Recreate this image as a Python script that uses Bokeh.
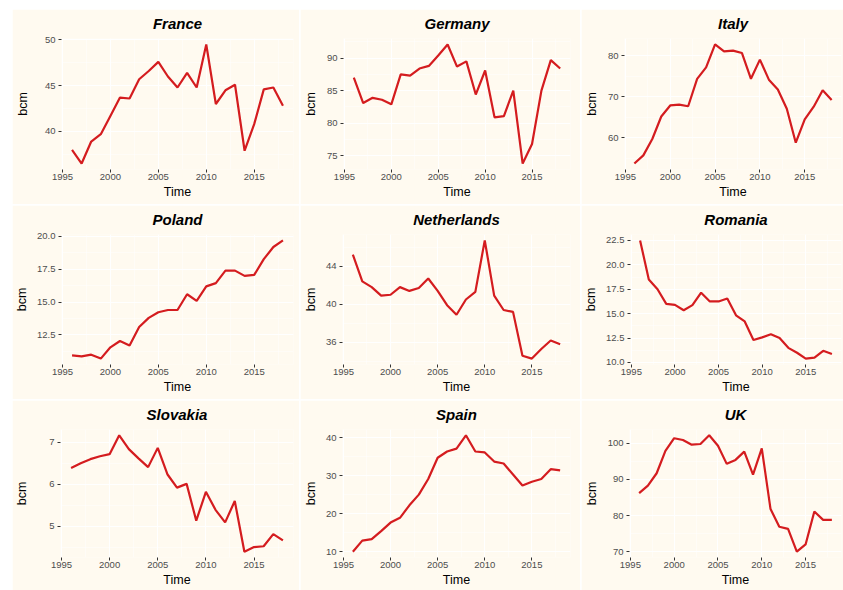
from bokeh.plotting import figure
from bokeh.models import Range1d, FixedTicker, NumeralTickFormatter, Row, Column
from bokeh.embed import file_html
from bokeh.resources import INLINE

# ---------------- data ----------------
years = list(range(1996, 2019))
countries = ["France", "Germany", "Italy",
             "Poland", "Netherlands", "Romania",
             "Slovakia", "Spain", "UK"]

france = [38.0, 36.5, 38.9, 39.7, 41.7, 43.7, 43.6, 45.7, 46.6, 47.6, 46.0, 44.8,
          46.4, 44.8, 49.5, 43.0, 44.5, 45.1, 37.9, 40.8, 44.6, 44.8, 42.8]
germany = [87.0, 83.1, 83.9, 83.6, 82.9, 87.5, 87.3, 88.4, 88.8, 90.4, 92.1, 88.7,
           89.5, 84.4, 88.1, 80.9, 81.1, 85.0, 73.8, 76.8, 85.0, 89.7, 88.4]
italy = [53.7, 55.7, 59.7, 65.2, 67.9, 68.1, 67.7, 74.4, 77.2, 82.8, 81.1, 81.3,
         80.7, 74.4, 79.1, 74.2, 71.8, 67.1, 58.8, 64.5, 67.6, 71.6, 69.2]
poland = [10.94, 10.87, 11.0, 10.7, 11.56, 12.04, 11.7, 13.1, 13.8, 14.23, 14.4, 14.4,
          15.6, 15.1, 16.2, 16.45, 17.4, 17.4, 17.0, 17.07, 18.27, 19.2, 19.7]
netherlands = [45.2, 42.4, 41.8, 40.9, 41.0, 41.8, 41.4, 41.7, 42.7, 41.4, 39.9, 38.9,
               40.5, 41.3, 46.7, 40.9, 39.4, 39.2, 34.6, 34.3, 35.3, 36.2, 35.8]
romania = [22.5, 18.5, 17.5, 16.0, 15.9, 15.35, 15.87, 17.15, 16.25, 16.25, 16.55, 14.83,
           14.2, 12.3, 12.57, 12.9, 12.5, 11.5, 11.0, 10.4, 10.5, 11.2, 10.87]
slovakia = [6.39, 6.5, 6.6, 6.67, 6.72, 7.17, 6.84, 6.62, 6.41, 6.87, 6.24, 5.92,
            6.01, 5.13, 5.82, 5.39, 5.09, 5.6, 4.39, 4.5, 4.52, 4.81, 4.66]
spain = [10.0, 12.9, 13.3, 15.4, 17.65, 18.9, 22.2, 25.0, 29.1, 34.7, 36.35, 37.1,
         40.6, 36.35, 36.1, 33.7, 33.2, 30.3, 27.4, 28.4, 29.1, 31.7, 31.4]
uk = [86.2, 88.3, 91.7, 97.9, 101.4, 100.9, 99.6, 99.8, 102.2, 99.3, 94.3, 95.4,
      97.7, 91.3, 98.6, 81.8, 76.9, 76.3, 70.0, 72.0, 81.1, 78.8, 78.8]

series = [france, germany, italy, poland, netherlands, romania, slovakia, spain, uk]

year_ticks = [1995, 2000, 2005, 2010, 2015]
france_ticks = [40, 45, 50]
germany_ticks = [75, 80, 85, 90]
italy_ticks = [60, 70, 80]
poland_ticks = [12.5, 15.0, 17.5, 20.0]
netherlands_ticks = [36, 40, 44]
romania_ticks = [10.0, 12.5, 15.0, 17.5, 20.0, 22.5]
slovakia_ticks = [5, 6, 7]
spain_ticks = [10, 20, 30, 40]
uk_ticks = [70, 80, 90, 100]
y_ticks = [france_ticks, germany_ticks, italy_ticks, poland_ticks, netherlands_ticks,
           romania_ticks, slovakia_ticks, spain_ticks, uk_ticks]
y_formats = ["0", "0", "0", "0.0", "0", "0.0", "0", "0", "0"]

# ---------------- style ----------------
BG = "#FFFAF0"
RED = "#D41C1F"
FONT = "Liberation Sans"
col_widths = [287, 280, 262]
row_heights = [195, 194, 190]
left_borders = [48, 39, 38]
right_borders = [6, 10, 2]
top_borders = [28, 29, 28]
bottom_borders = [35, 35, 33]
label_standoffs = [12, 6, 6, 5, 5, 5, 17, 5, 6]


def expand(vals, frac=0.05):
    lo, hi = min(vals), max(vals)
    d = (hi - lo) * frac
    return lo - d, hi + d


def minor_of(ticks):
    step = ticks[1] - ticks[0]
    out = [ticks[0] - step / 2]
    out += [t + step / 2 for t in ticks]
    return out


figs = []
for i, name in enumerate(countries):
    r, c = divmod(i, 3)
    xs, xe = expand(years)
    ys, ye = expand(series[i])
    p = figure(width=col_widths[c], height=row_heights[r],
               x_range=Range1d(xs, xe), y_range=Range1d(ys, ye),
               output_backend="svg", toolbar_location=None,
               min_border_left=left_borders[c], min_border_right=right_borders[c],
               min_border_top=top_borders[r], min_border_bottom=bottom_borders[r],
               background_fill_color=BG, border_fill_color=BG,
               outline_line_color=None, title=name)
    p.title.text_font = FONT
    p.title.text_font_size = "15px"
    p.title.text_font_style = "bold italic"
    p.title.align = "center"
    p.title.vertical_align = "top"
    p.title.standoff = 10
    p.title.text_color = "black"

    p.line(years, series[i], line_color=RED, line_width=2.2)

    p.xaxis.ticker = FixedTicker(ticks=year_ticks, minor_ticks=minor_of(year_ticks))
    p.yaxis.ticker = FixedTicker(ticks=y_ticks[i], minor_ticks=minor_of(y_ticks[i]))
    p.yaxis.formatter = NumeralTickFormatter(format=y_formats[i])
    p.xaxis.axis_label = "Time"
    p.yaxis.axis_label = "bcm"
    for ax in (p.xaxis, p.yaxis):
        ax.axis_line_color = None
        ax.major_tick_line_color = "#333333"
        ax.major_tick_out = 3
        ax.major_tick_in = 0
        ax.minor_tick_line_color = None
        ax.major_label_text_font = FONT
        ax.major_label_text_font_size = "9.5px"
        ax.major_label_text_color = "#4D4D4D"
        ax.major_label_standoff = 2
        ax.axis_label_text_font = FONT
        ax.axis_label_text_font_size = "12.5px"
        ax.axis_label_text_font_style = "normal"
        ax.axis_label_text_color = "black"
    p.xaxis.major_label_standoff = 0
    p.xaxis.axis_label_standoff = 2
    p.yaxis.axis_label_standoff = label_standoffs[i]

    for g in (p.xgrid, p.ygrid):
        g.grid_line_color = "white"
        g.grid_line_width = 1.1
        g.minor_grid_line_color = "white"
        g.minor_grid_line_width = 0.5
    figs.append(p)

rows = [Row(children=figs[k * 3:(k + 1) * 3], spacing=1) for k in range(3)]
layout = Column(children=rows, spacing=1, margin=(9, 0, 0, 12))

open("out.html", "w").write(file_html(layout, INLINE))
